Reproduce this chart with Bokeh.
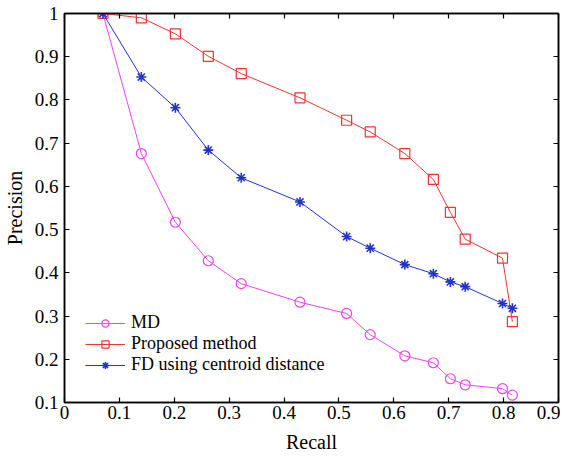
from bokeh.plotting import figure
from bokeh.models import LinearAxis, Legend, LegendItem, FixedTicker, Range1d
from bokeh.embed import file_html
from bokeh.resources import INLINE

recall = [0.07, 0.140, 0.202, 0.262, 0.322, 0.429, 0.514, 0.557, 0.620, 0.672, 0.703, 0.730, 0.798, 0.816]
prec_md = [1.0, 0.676, 0.517, 0.428, 0.375, 0.332, 0.306, 0.257, 0.208, 0.192, 0.155, 0.141, 0.132, 0.117]
prec_proposed = [1.0, 0.990, 0.953, 0.901, 0.861, 0.805, 0.753, 0.726, 0.676, 0.616, 0.540, 0.478, 0.434, 0.287]
prec_fd = [1.0, 0.853, 0.782, 0.684, 0.620, 0.564, 0.484, 0.457, 0.419, 0.398, 0.379, 0.368, 0.329, 0.318]
series_names = ["MD", "Proposed method", "FD using centroid distance"]
x_ticks = [0, 0.1, 0.2, 0.3, 0.4, 0.5, 0.6, 0.7, 0.8, 0.9]
y_ticks = [0.1, 0.2, 0.3, 0.4, 0.5, 0.6, 0.7, 0.8, 0.9, 1.0]
x_tick_labels = {0: "0", 0.1: "0.1", 0.2: "0.2", 0.3: "0.3", 0.4: "0.4", 0.5: "0.5",
                 0.6: "0.6", 0.7: "0.7", 0.8: "0.8", 0.9: "0.9"}
y_tick_labels = {0.1: "0.1", 0.2: "0.2", 0.3: "0.3", 0.4: "0.4", 0.5: "0.5",
                 0.6: "0.6", 0.7: "0.7", 0.8: "0.8", 0.9: "0.9", 1.0: "1"}

FONT = "serif"

p = figure(width=560, height=459, output_backend="svg", toolbar_location=None,
           x_range=Range1d(0, 0.9), y_range=Range1d(0.1, 1.0),
           min_border_left=64, min_border_top=13, min_border_right=2, min_border_bottom=57,
           x_axis_label="Recall", y_axis_label="Precision")
p.grid.visible = False
p.outline_line_color = "black"
p.outline_line_width = 1.5
p.background_fill_color = "white"
p.border_fill_color = "white"

for ax, ticks, labels in [(p.xaxis[0], x_ticks, x_tick_labels), (p.yaxis[0], y_ticks, y_tick_labels)]:
    ax.ticker = FixedTicker(ticks=ticks)
    ax.major_label_overrides = labels
    ax.minor_tick_line_color = None
    ax.major_tick_in = 5
    ax.major_tick_out = 0
    ax.axis_line_width = 1.5
    ax.major_tick_line_width = 1.2
    ax.major_label_text_font = FONT
    ax.major_label_text_font_size = "19px"
    ax.major_label_text_color = "black"
    ax.axis_label_text_font = FONT
    ax.axis_label_text_font_size = "20px"
    ax.axis_label_text_font_style = "normal"
    ax.axis_label_text_color = "black"

p.xaxis[0].major_label_standoff = 3
p.xaxis[0].axis_label_standoff = 9
p.yaxis[0].major_label_standoff = 6
p.yaxis[0].axis_label_standoff = 6

for loc, ticks in [("above", x_ticks), ("right", y_ticks)]:
    a = LinearAxis(ticker=FixedTicker(ticks=ticks))
    a.major_label_text_color = None
    a.major_label_standoff = 0
    a.major_tick_in = 5
    a.major_tick_out = 0
    a.minor_tick_line_color = None
    a.axis_line_width = 1.5
    a.major_tick_line_width = 1.2
    p.add_layout(a, loc)

c_md = "#ee44ee"
c_pr = "#ee3535"
c_fd = "#2233cc"

l1 = p.line(recall, prec_md, line_color=c_md, line_width=1)
m1 = p.scatter(recall, prec_md, marker="circle", size=10, fill_color=None, line_color=c_md, line_width=1.2)
l2 = p.line(recall, prec_proposed, line_color=c_pr, line_width=1)
m2 = p.scatter(recall, prec_proposed, marker="square", size=10, fill_color=None, line_color=c_pr, line_width=1.2)
l3 = p.line(recall, prec_fd, line_color=c_fd, line_width=1)
m3 = p.scatter(recall, prec_fd, marker="asterisk", size=10, line_color=c_fd, line_width=1.6)

legend = Legend(items=[
    LegendItem(label=series_names[0], renderers=[l1, m1]),
    LegendItem(label=series_names[1], renderers=[l2, m2]),
    LegendItem(label=series_names[2], renderers=[l3, m3]),
], location=(21, 27))
legend.background_fill_alpha = 0
legend.border_line_alpha = 0
legend.label_text_font = FONT
legend.label_text_font_size = "18px"
legend.label_text_color = "black"
legend.glyph_width = 40
legend.glyph_height = 18
legend.label_height = 18
legend.label_standoff = 6
legend.spacing = 0
legend.padding = 0
legend.margin = 0
p.add_layout(legend)

open("out.html", "w").write(file_html(p, INLINE))
